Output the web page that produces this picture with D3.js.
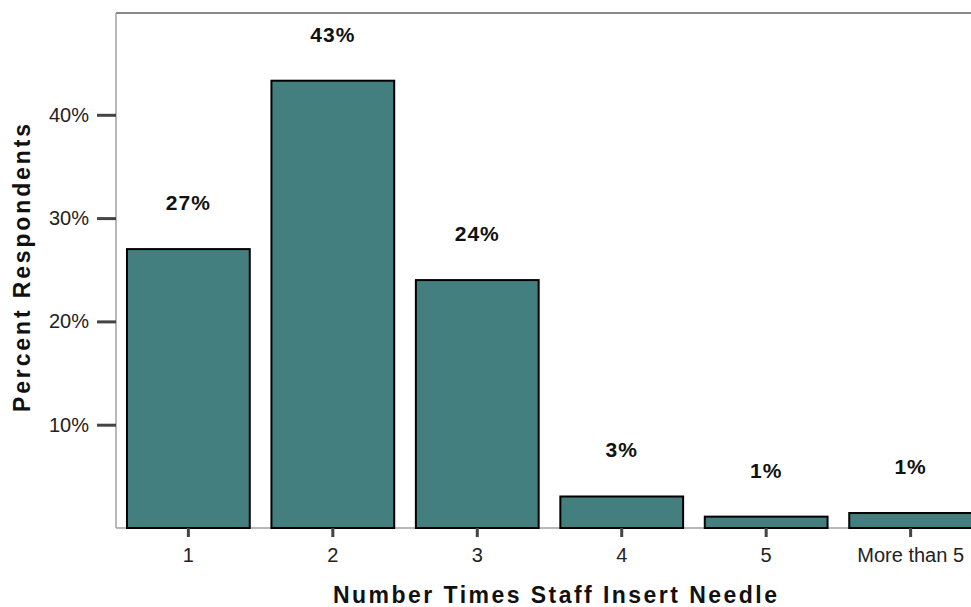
<!DOCTYPE html>
<html><head><meta charset="utf-8">
<script src="https://cdn.jsdelivr.net/npm/d3@7/dist/d3.min.js"></script>
<style>body{margin:0;background:#fff}svg{display:block}text{font-family:"Liberation Sans",Arial,sans-serif}</style>
</head><body><svg id="c" width="971" height="607"></svg>
<script>
const categories = ["1","2","3","4","5","More than 5"];
const values = [27.0, 43.3, 24.0, 3.05, 1.1, 1.45];
const valueLabels = ["27%","43%","24%","3%","1%","1%"];
const yTicks = [10,20,30,40];
const xTitle = "Number Times Staff Insert Needle";
const yTitle = "Percent Respondents";

const svg = d3.select("#c");
const mLeft = 116, mTop = 13, mBottom = 528, mRight = 983;
const x = d3.scaleBand().domain(categories).range([mLeft, mRight]).paddingInner(0.15).paddingOuter(0.076);
const y = d3.scaleLinear().domain([0, 10]).range([mBottom, mBottom - 103.3]);

// frame
svg.append("line").attr("x1", mLeft).attr("x2", 971).attr("y1", mTop).attr("y2", mTop).attr("stroke", "#8a8a8a").attr("stroke-width", 2);
svg.append("line").attr("x1", mLeft).attr("x2", mLeft).attr("y1", mTop).attr("y2", mBottom).attr("stroke", "#8a8a8a").attr("stroke-width", 1.2);
svg.append("line").attr("x1", mLeft).attr("x2", 971).attr("y1", mBottom).attr("y2", mBottom).attr("stroke", "#a0a0a0").attr("stroke-width", 1.5);

// y axis
const yAxis = d3.axisLeft(y).tickValues(yTicks).tickFormat(d => d + "%").tickSize(19).tickPadding(8);
const ga = svg.append("g").attr("transform", `translate(${mLeft},0)`).call(yAxis);
ga.select(".domain").remove();
ga.selectAll(".tick line").attr("stroke", "#444").attr("stroke-width", 3);
ga.selectAll(".tick text").attr("font-size", 20).attr("fill", "#222").attr("font-family", "Liberation Sans, Arial, sans-serif");

// bars
svg.append("g").selectAll("rect").data(values).join("rect")
  .attr("x", (d, i) => x(categories[i]))
  .attr("y", d => y(d))
  .attr("width", x.bandwidth())
  .attr("height", d => mBottom - y(d))
  .attr("fill", "#427f7e").attr("stroke", "#000").attr("stroke-width", 2);

// x axis
const xAxis = d3.axisBottom(x).tickSize(9).tickPadding(11);
const gx = svg.append("g").attr("transform", `translate(0,${mBottom})`).call(xAxis);
gx.select(".domain").remove();
gx.selectAll(".tick line").attr("stroke", "#444").attr("stroke-width", 3);
gx.selectAll(".tick text").attr("font-size", 20).attr("fill", "#222").attr("font-family", "Liberation Sans, Arial, sans-serif");

// value labels
svg.append("g").selectAll("text").data(values).join("text")
  .attr("x", (d, i) => x(categories[i]) + x.bandwidth() / 2)
  .attr("y", d => y(d) - 39)
  .attr("text-anchor", "middle")
  .attr("font-size", 21).attr("font-weight", "bold").attr("letter-spacing", 1).attr("fill", "#111")
  .text((d, i) => valueLabels[i]);

// titles
svg.append("text").attr("x", 555).attr("y", 603).attr("text-anchor", "middle")
  .attr("font-size", 23).attr("font-weight", "bold").attr("fill", "#111")
  .attr("textLength", 444).attr("lengthAdjust", "spacing").text(xTitle);
svg.append("text").attr("transform", "translate(30,268) rotate(-90)").attr("text-anchor", "middle")
  .attr("font-size", 23).attr("font-weight", "bold").attr("fill", "#111")
  .attr("textLength", 288).attr("lengthAdjust", "spacing").text(yTitle);
</script></body></html>
